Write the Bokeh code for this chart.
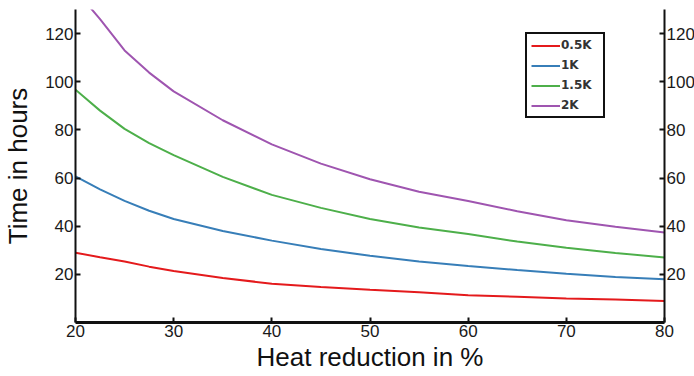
from bokeh.plotting import figure
from bokeh.models import LinearAxis, FixedTicker, Range1d
from bokeh.embed import file_html
from bokeh.resources import INLINE

# Heat reduction in % (x)
heat_reduction = [20, 22.5, 25, 27.5, 30, 35, 40, 45, 50, 55, 60, 65, 70, 75, 80]

# Time in hours for each temperature difference
t_05K = [29.0, 27.1, 25.3, 23.2, 21.4, 18.5, 16.1, 14.7, 13.6, 12.6, 11.3, 10.7, 10.0, 9.6, 8.9]
t_1K = [60.7, 55.3, 50.5, 46.4, 43.0, 38.0, 34.0, 30.5, 27.7, 25.3, 23.5, 21.8, 20.2, 18.9, 18.0]
t_15K = [96.7, 88.0, 80.4, 74.5, 69.5, 60.5, 53.0, 47.6, 43.0, 39.5, 36.8, 33.6, 31.0, 28.9, 27.0]
t_2K = [138.0, 126.0, 113.0, 103.8, 96.0, 84.0, 74.0, 66.0, 59.5, 54.3, 50.5, 46.2, 42.5, 39.8, 37.4]

series_labels = ["0.5K", "1K", "1.5K", "2K"]
series_values = [t_05K, t_1K, t_15K, t_2K]
series_colors = ["#e41a1c", "#377eb8", "#4daf4a", "#9f55b0"]

x_ticks = [20, 30, 40, 50, 60, 70, 80]
y_ticks = [20, 40, 60, 80, 100, 120]

FONT = "Liberation Sans"

p = figure(
    frame_width=589, frame_height=313,
    x_range=Range1d(20, 80), y_range=Range1d(0, 130),
    output_backend="svg", toolbar_location=None,
    min_border_left=75, min_border_right=22, min_border_top=9, min_border_bottom=50,
    background_fill_color="white", border_fill_color="white",
)
p.outline_line_color = None
p.xgrid.visible = False
p.ygrid.visible = False

for lab, vals, col in zip(series_labels, series_values, series_colors):
    p.line(heat_reduction, vals, line_color=col, line_width=2, legend_label=lab)

# right axis
right_axis = LinearAxis()
p.add_layout(right_axis, "right")

for ax in p.yaxis:
    ax.ticker = FixedTicker(ticks=y_ticks)
for ax in p.xaxis:
    ax.ticker = FixedTicker(ticks=x_ticks)

for ax in list(p.xaxis) + list(p.yaxis):
    ax.axis_line_color = "#111111"
    ax.axis_line_width = 2
    ax.major_tick_line_color = "#111111"
    ax.major_tick_line_width = 2
    ax.major_tick_in = 5
    ax.major_tick_out = 0
    ax.minor_tick_line_color = None
    ax.major_label_text_font = FONT
    ax.major_label_text_font_size = "17px"
    ax.major_label_text_color = "#1a1a1a"
    ax.major_label_standoff = 2
    ax.axis_label_text_font = FONT
    ax.axis_label_text_font_style = "normal"
    ax.axis_label_text_font_size = "26px"
    ax.axis_label_text_color = "#111111"

p.xaxis[0].axis_line_width = 3
p.xaxis[0].axis_label = "Heat reduction in %"
p.xaxis[0].axis_label_standoff = 2
p.yaxis[0].axis_label = "Time in hours"
p.yaxis[0].axis_label_standoff = 9

leg = p.legend[0]
leg.location = (450, 204)
leg.border_line_color = "#111111"
leg.border_line_alpha = 1.0
leg.border_line_width = 2
leg.background_fill_alpha = 1
leg.padding = 4
leg.spacing = 6
leg.margin = 0
leg.glyph_width = 29
leg.glyph_height = 13
leg.label_height = 13
leg.label_width = 38
leg.label_standoff = 1
leg.label_text_font = "DejaVu Sans"
leg.label_text_font_style = "bold"
leg.label_text_font_size = "12px"
leg.label_text_color = "#333333"

open("out.html", "w").write(file_html(p, INLINE))
